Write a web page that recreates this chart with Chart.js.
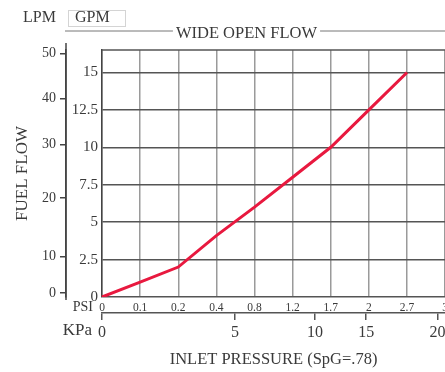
<!DOCTYPE html>
<html>
<head>
<meta charset="utf-8">
<script src="https://cdn.jsdelivr.net/npm/chart.js@4/dist/chart.umd.min.js"></script>
<style>
  html, body { margin: 0; padding: 0; background: #fff; overflow: hidden; }
  #wrap { width: 445px; height: 372px; overflow: hidden; position: relative; }
  canvas { display: block; }
</style>
</head>
<body>
<div id="wrap"><canvas id="c" width="452" height="372"></canvas></div>
<script>
// ---- data ----
const psiLabels = ['0', '0.1', '0.2', '0.4', '0.8', '1.2', '1.7', '2', '2.7', '3'];
const fuelFlowGpm = [0, 1.0, 2.0, 4.1, 6.0, 8.0, 10.0, 12.5, 15.0];
const gpmTicks = [0, 2.5, 5, 7.5, 10, 12.5, 15];
const gpmMax = 16.5;
// secondary (LPM) scale: label and where it sits on the GPM scale
const lpmLabels = ['0', '10', '20', '30', '40', '50'];
const lpmAtGpm = [0.27, 2.69, 6.6, 10.2, 13.25, 16.25];
// secondary (KPa) scale: label and where it sits on the PSI index scale
const kpaLabels = ['0', '5', '10', '15', '20'];
const kpaAtPsiIndex = [0, 3.49, 5.59, 6.93, 8.8];

const chartTitle = 'WIDE OPEN FLOW';
const SERIF = '"Liberation Serif", "DejaVu Serif", serif';
const TXT = '#3a3a3a';

const decor = {
  id: 'decor',
  afterDraw(chart) {
    const ctx = chart.ctx;
    const a = chart.chartArea;
    ctx.save();
    // plot top border
    ctx.strokeStyle = '#555';
    ctx.lineWidth = 1.5;
    ctx.beginPath();
    ctx.moveTo(a.left, a.top);
    ctx.lineTo(a.right, a.top);
    ctx.stroke();
    // LPM axis line extends a little beyond the plot
    const y2 = chart.scales.y2;
    ctx.strokeStyle = '#444';
    ctx.beginPath();
    ctx.moveTo(y2.right, a.top - 7);
    ctx.lineTo(y2.right, a.bottom + 3);
    ctx.stroke();
    // title with side rules
    ctx.font = '16.5px ' + SERIF;
    const w = ctx.measureText(chartTitle).width;
    const cx = 246.5;
    const ty = 31;
    ctx.fillStyle = TXT;
    ctx.textBaseline = 'middle';
    ctx.textAlign = 'center';
    ctx.fillText(chartTitle, cx, 34);
    ctx.strokeStyle = '#777';
    ctx.lineWidth = 1;
    ctx.beginPath();
    ctx.moveTo(65, ty); ctx.lineTo(cx - w / 2 - 3, ty);
    ctx.moveTo(cx + w / 2 + 3, ty); ctx.lineTo(452, ty);
    ctx.stroke();
    // side labels
    ctx.textAlign = 'left';
    ctx.font = '16px ' + SERIF;
    ctx.fillText('LPM', 23, 18);
    ctx.fillText('GPM', 75, 18);
    ctx.strokeStyle = '#d4d4d4';
    ctx.strokeRect(68.5, 10.5, 57, 16);
    ctx.textAlign = 'right';
    ctx.font = '14px ' + SERIF;
    ctx.fillText('PSI', 93, 307);
    ctx.font = '17px ' + SERIF;
    ctx.fillText('KPa', 92, 331);
    ctx.restore();
  }
};

new Chart(document.getElementById('c'), {
  type: 'line',
  data: {
    labels: psiLabels,
    datasets: [{
      data: fuelFlowGpm,
      borderColor: '#e8193f',
      borderWidth: 3,
      pointRadius: 0,
      tension: 0,
      fill: false,
      xAxisID: 'x',
      yAxisID: 'y'
    }]
  },
  options: {
    responsive: false,
    animation: false,
    devicePixelRatio: 1,
    layout: { padding: { left: 0, right: 6, top: 50, bottom: 0 } },
    plugins: {
      legend: { display: false },
      tooltip: { enabled: false },
      title: { display: false }
    },
    scales: {
      x: {
        type: 'category',
        position: 'bottom',
        weight: 0,
        offset: false,
        afterFit: s => { s.height = 16; },
        grid: { color: '#9a9a9a', lineWidth: 1.5, drawTicks: false },
        border: { display: false },
        ticks: {
          color: TXT, font: { family: SERIF, size: 11.5 }, padding: 4,
          maxRotation: 0, autoSkip: false
        }
      },
      x2: {
        type: 'linear',
        position: 'bottom',
        weight: 1,
        min: 0,
        max: psiLabels.length - 1,
        afterBuildTicks: s => { s.ticks = kpaAtPsiIndex.map(v => ({ value: v })); },
        afterFit: s => { s.height = 59; },
        grid: { drawOnChartArea: false, drawTicks: true, tickLength: 7, color: '#555', lineWidth: 1.5 },
        border: { display: true, color: '#555', width: 1.5 },
        ticks: {
          color: TXT, font: { family: SERIF, size: 16 }, padding: 3, maxRotation: 0, autoSkip: false,
          callback: (v, i) => kpaLabels[i]
        },
        title: {
          display: true,
          text: 'INLET PRESSURE (SpG=.78)',
          color: TXT,
          font: { family: SERIF, size: 16.5 },
          padding: { top: 4, bottom: 2 }
        }
      },
      y: {
        type: 'linear',
        position: 'left',
        weight: 0,
        min: 0,
        max: gpmMax,
        afterBuildTicks: s => { s.ticks = gpmTicks.map(v => ({ value: v })); },
        afterFit: s => { s.width = 36; },
        grid: { color: '#555', lineWidth: 1.5, drawTicks: false },
        border: { display: true, color: '#444', width: 1.5 },
        ticks: { color: TXT, font: { family: SERIF, size: 15 }, padding: 4 }
      },
      y2: {
        type: 'linear',
        position: 'left',
        weight: 1,
        min: 0,
        max: gpmMax,
        afterBuildTicks: s => { s.ticks = lpmAtGpm.map(v => ({ value: v })); },
        afterFit: s => { s.width = 66; },
        grid: { drawOnChartArea: false, drawTicks: true, tickLength: 6, color: '#444', lineWidth: 1.5 },
        border: { display: true, color: '#444', width: 1.5 },
        ticks: {
          color: TXT, font: { family: SERIF, size: 14 }, padding: 4,
          callback: (v, i) => lpmLabels[i]
        },
        title: {
          display: true,
          text: 'FUEL FLOW',
          color: TXT,
          font: { family: SERIF, size: 17 },
          padding: { top: 12, bottom: 0 }
        }
      }
    }
  },
  plugins: [decor]
});
</script>
</body>
</html>
